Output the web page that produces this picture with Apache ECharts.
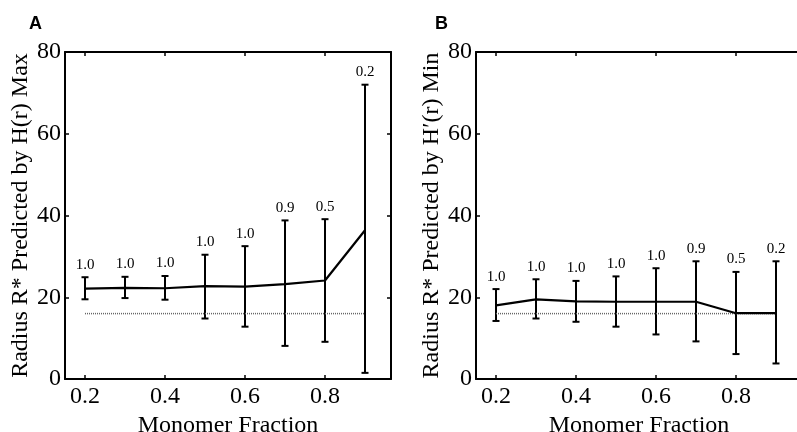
<!DOCTYPE html>
<html>
<head>
    <meta charset="utf-8" />
    <title>Radius R* vs monomer fraction</title>
    <script src="https://cdn.jsdelivr.net/npm/echarts@6/dist/echarts.min.js"></script>
</head>
<body style="margin:0;background:#fff;">
    <div id="main" style="width:797px;height:432px;"></div>
    <script type="text/javascript">
        // monomer fraction on the x axis
        var fractions = [0.2, 0.3, 0.4, 0.5, 0.6, 0.7, 0.8, 0.9];
        // panel A: radius predicted by H(r) max
        var meanA = [22.1, 22.3, 22.2, 22.7, 22.6, 23.2, 24.1, 36.4];
        var upperA = [24.9, 25.0, 25.2, 30.4, 32.5, 38.8, 39.1, 72.0];
        var lowerA = [19.5, 19.8, 19.4, 14.8, 12.8, 8.1, 9.1, 1.5];
        // panel B: radius predicted by H'(r) min
        var meanB = [18.0, 19.5, 19.0, 18.9, 18.9, 18.9, 16.1, 16.1];
        var upperB = [22.0, 24.4, 24.0, 25.1, 27.1, 28.8, 26.2, 28.8];
        var lowerB = [14.2, 14.8, 14.0, 12.8, 10.9, 9.2, 6.1, 3.8];
        // labels above each error bar
        var barLabels = ['1.0', '1.0', '1.0', '1.0', '1.0', '0.9', '0.5', '0.2'];
        // true radius (dotted reference line)
        var trueRadius = 16;
        var xTicks = [0.2, 0.4, 0.6, 0.8];

        var font = 'Liberation Serif';
        var myChart = echarts.init(document.getElementById('main'));

        function errData(up, low) {
            var d = [];
            for (var i = 0; i < fractions.length; i++) {
                d.push([fractions[i], low[i], up[i], i]);
            }
            return d;
        }

        function renderErr(params, api) {
            var x = api.value(0);
            var lo = api.coord([x, api.value(1)]);
            var hi = api.coord([x, api.value(2)]);
            var cap = 3.5;
            var st = { stroke: '#000', lineWidth: 2 };
            return {
                type: 'group',
                children: [
                    { type: 'line', shape: { x1: lo[0], y1: lo[1], x2: hi[0], y2: hi[1] }, style: st },
                    { type: 'line', shape: { x1: hi[0] - cap, y1: hi[1], x2: hi[0] + cap, y2: hi[1] }, style: st },
                    { type: 'line', shape: { x1: lo[0] - cap, y1: lo[1], x2: lo[0] + cap, y2: lo[1] }, style: st },
                    {
                        type: 'text',
                        style: {
                            text: barLabels[api.value(3)],
                            x: hi[0], y: hi[1] - 5,
                            align: 'center', verticalAlign: 'bottom',
                            font: '15px "' + font + '"', fill: '#000'
                        }
                    }
                ]
            };
        }

        function xAx(gi, pos, showLabel) {
            return {
                type: 'value', gridIndex: gi, position: pos,
                min: 0.15, max: 0.965,
                axisLine: { show: true, onZero: false, lineStyle: { color: '#000', width: 2 } },
                axisTick: { show: true, inside: true, length: 4, customValues: xTicks, lineStyle: { color: '#000', width: 1.5 } },
                axisLabel: {
                    show: showLabel, customValues: xTicks, margin: 6,
                    color: '#000', fontFamily: font, fontSize: 24,
                    formatter: function (v) { return v.toFixed(1); }
                },
                splitLine: { show: false },
                name: showLabel ? 'Monomer Fraction' : '',
                nameLocation: 'middle', nameGap: 23,
                nameTextStyle: { color: '#000', fontFamily: font, fontSize: 24 }
            };
        }

        function yAx(gi, pos, showLabel, title) {
            return {
                type: 'value', gridIndex: gi, position: pos,
                min: 0, max: 80, interval: 20,
                axisLine: { show: true, onZero: false, lineStyle: { color: '#000', width: 2 } },
                axisTick: { show: true, inside: true, length: 4, lineStyle: { color: '#000', width: 1.5 } },
                axisLabel: { show: showLabel, margin: 4, color: '#000', fontFamily: font, fontSize: 24 },
                splitLine: { show: false },
                name: showLabel ? title : '',
                nameLocation: 'middle', nameGap: 32,
                nameTextStyle: { color: '#000', fontFamily: font, fontSize: 24 }
            };
        }

        function panelSeries(xi, yi, mean, up, low) {
            var line = [];
            for (var i = 0; i < fractions.length; i++) line.push([fractions[i], mean[i]]);
            return [
                {
                    type: 'line', xAxisIndex: xi, yAxisIndex: yi,
                    data: [[fractions[0], trueRadius], [fractions[fractions.length - 1], trueRadius]],
                    showSymbol: false, silent: true,
                    lineStyle: { color: '#666', width: 1.5, type: [1, 1] }
                },
                {
                    type: 'custom', xAxisIndex: xi, yAxisIndex: yi,
                    data: errData(up, low), renderItem: renderErr, z: 3
                },
                {
                    type: 'line', xAxisIndex: xi, yAxisIndex: yi,
                    data: line, showSymbol: false,
                    lineStyle: { color: '#000', width: 2.2 }, z: 4
                }
            ];
        }

        var option = {
            backgroundColor: '#fff',
            animation: false,
            grid: [
                { left: 65, top: 52, width: 326, height: 327, outerBoundsMode: 'none' },
                { left: 476, top: 52, width: 326, height: 327, outerBoundsMode: 'none' }
            ],
            title: [
                { text: 'A', left: 24, top: 10, textStyle: { fontFamily: 'Liberation Sans', fontWeight: 'bold', fontSize: 18, color: '#000' } },
                { text: 'B', left: 430, top: 10, textStyle: { fontFamily: 'Liberation Sans', fontWeight: 'bold', fontSize: 18, color: '#000' } }
            ],
            xAxis: [
                xAx(0, 'bottom', true), xAx(0, 'top', false),
                xAx(1, 'bottom', true), xAx(1, 'top', false)
            ],
            yAxis: [
                yAx(0, 'left', true, 'Radius R* Predicted by H(r) Max'), yAx(0, 'right', false, ''),
                yAx(1, 'left', true, 'Radius R* Predicted by H\u2032(r) Min'), yAx(1, 'right', false, '')
            ],
            series: panelSeries(0, 0, meanA, upperA, lowerA).concat(panelSeries(2, 2, meanB, upperB, lowerB))
        };
        myChart.setOption(option);
    </script>
</body>
</html>
